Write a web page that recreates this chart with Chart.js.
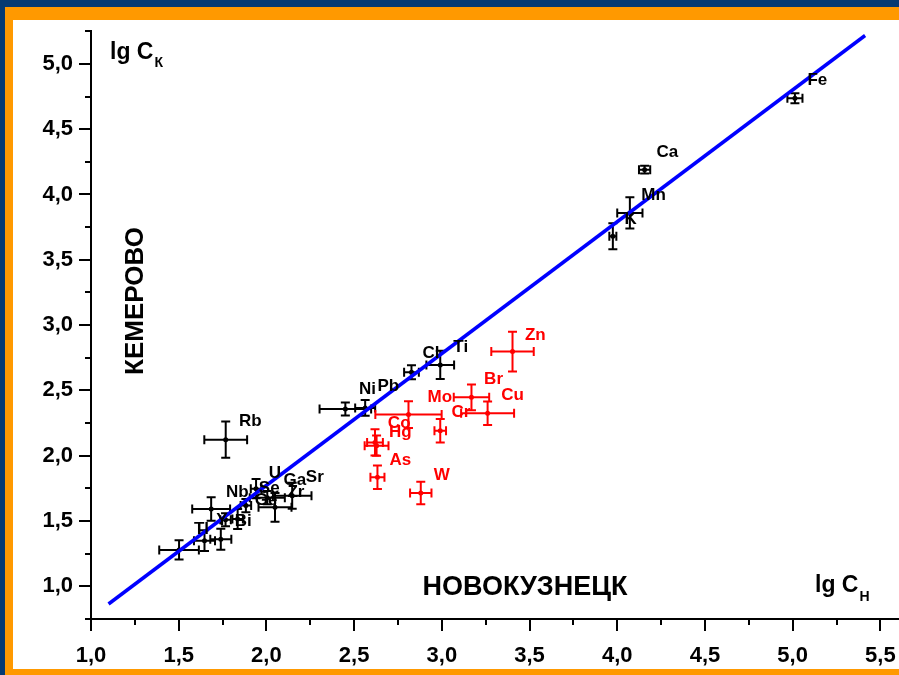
<!DOCTYPE html>
<html><head><meta charset="utf-8">
<script src="https://cdn.jsdelivr.net/npm/chart.js@4.4.0/dist/chart.umd.min.js"></script>
<style>
html,body{margin:0;padding:0;overflow:hidden;background:#063a72;width:899px;height:675px}
#wrap{position:absolute;left:0;top:0;width:920px;height:675px}
</style></head><body>
<div id="wrap"><canvas id="c" width="920" height="675"></canvas></div>
<script>
// ---- data (lg concentrations) ----
const blackX    = [5.013, 4.156, 4.072, 3.975, 2.991, 2.827, 2.563, 2.450, 1.768, 1.502, 1.647, 1.740, 1.685, 1.767, 1.836, 1.883, 2.049, 1.941, 2.005, 2.147];
const blackY    = [4.737, 4.190, 3.859, 3.680, 2.695, 2.639, 2.366, 2.358, 2.123, 1.279, 1.350, 1.360, 1.593, 1.510, 1.516, 1.618, 1.605, 1.748, 1.679, 1.694];
const blackXErr = [0.043, 0.032, 0.072, 0.020, 0.079, 0.042, 0.057, 0.147, 0.122, 0.113, 0.060, 0.060, 0.108, 0.030, 0.030, 0.030, 0.094, 0.030, 0.100, 0.110];
const blackYErr = [0.038, 0.030, 0.120, 0.100, 0.108, 0.054, 0.060, 0.050, 0.139, 0.074, 0.080, 0.080, 0.090, 0.050, 0.077, 0.050, 0.110, 0.073, 0.050, 0.100];

const redX    = [3.403, 3.169, 3.261, 2.810, 2.991, 2.628, 2.619, 2.633, 2.880];
const redY    = [2.797, 2.447, 2.325, 2.315, 2.192, 2.077, 2.102, 1.835, 1.715];
const redXErr = [0.121, 0.101, 0.151, 0.189, 0.033, 0.068, 0.045, 0.040, 0.061];
const redYErr = [0.153, 0.098, 0.090, 0.102, 0.090, 0.077, 0.100, 0.090, 0.086];

const blackLabels = ['Fe', 'Ca', 'Mn', 'K', 'Ti', 'Cl', 'Ni', 'Pb', 'Rb', 'U', 'Ga', 'Sr', 'Se', 'Zr', 'Nb', 'Ge', 'Y', 'Bi', 'Tl'];
const blackLabelX = [5.141, 4.286, 4.207, 4.077, 3.108, 2.938, 2.576, 2.695, 1.908, 2.049, 2.162, 2.276, 2.016, 2.168, 1.834, 1.998, 1.747, 1.868, 1.630];
const blackLabelY = [4.872, 4.320, 3.997, 3.813, 2.828, 2.782, 2.507, 2.530, 2.261, 1.863, 1.810, 1.833, 1.747, 1.717, 1.717, 1.656, 1.503, 1.498, 1.434];

const redLabels = ['Zn', 'Br', 'Cu', 'Mo', 'Cr', 'Co', 'Hg', 'As', 'W'];
const redLabelX = [3.533, 3.295, 3.403, 2.989, 3.109, 2.757, 2.764, 2.764, 3.000];
const redLabelY = [2.918, 2.583, 2.461, 2.446, 2.333, 2.246, 2.180, 1.968, 1.848];

const fitX = [1.100, 5.413];
const fitY = [0.865, 5.217];

const xTickValues = [1.0, 1.5, 2.0, 2.5, 3.0, 3.5, 4.0, 4.5, 5.0, 5.5];
const yTickValues = [1.0, 1.5, 2.0, 2.5, 3.0, 3.5, 4.0, 4.5, 5.0];
const xTickLabels = ['1,0', '1,5', '2,0', '2,5', '3,0', '3,5', '4,0', '4,5', '5,0', '5,5'];
const yTickLabels = ['1,0', '1,5', '2,0', '2,5', '3,0', '3,5', '4,0', '4,5', '5,0'];

// ---- build ----
const toPts = (xs, ys) => xs.map((x, i) => ({x: x, y: ys[i]}));
const FONT = '"Liberation Sans", Arial, sans-serif';

function tickLabel(values, labels) {
  return function (v) {
    for (let i = 0; i < values.length; i++) if (Math.abs(values[i] - v) < 1e-6) return labels[i];
    return '';
  };
}

const framePlugin = {
  id: 'frame',
  beforeDraw(chart) {
    const ctx = chart.ctx, W = chart.width, H = chart.height;
    ctx.save();
    ctx.fillStyle = '#063a72'; ctx.fillRect(0, 0, W, H);
    ctx.fillStyle = '#ff9900'; ctx.fillRect(5, 7, W, H);
    ctx.fillStyle = '#ffffff'; ctx.fillRect(13, 20, W, 649);
    ctx.restore();
  }
};

function drawErr(ctx, xs, ys, ex, ey, sx, sy, color) {
  ctx.strokeStyle = color; ctx.lineWidth = 2;
  const cap = 4.5;
  for (let i = 0; i < xs.length; i++) {
    const px = sx.getPixelForValue(xs[i]), py = sy.getPixelForValue(ys[i]);
    const x1 = sx.getPixelForValue(xs[i] - ex[i]), x2 = sx.getPixelForValue(xs[i] + ex[i]);
    const y1 = sy.getPixelForValue(ys[i] - ey[i]), y2 = sy.getPixelForValue(ys[i] + ey[i]);
    ctx.beginPath();
    ctx.moveTo(x1, py); ctx.lineTo(x2, py);
    ctx.moveTo(x1, py - cap); ctx.lineTo(x1, py + cap);
    ctx.moveTo(x2, py - cap); ctx.lineTo(x2, py + cap);
    ctx.moveTo(px, y1); ctx.lineTo(px, y2);
    ctx.moveTo(px - cap, y1); ctx.lineTo(px + cap, y1);
    ctx.moveTo(px - cap, y2); ctx.lineTo(px + cap, y2);
    ctx.stroke();
  }
}

const overlayPlugin = {
  id: 'overlay',
  beforeDatasetsDraw(chart) {
    const ctx = chart.ctx, sx = chart.scales.x, sy = chart.scales.y;
    ctx.save();
    drawErr(ctx, blackX, blackY, blackXErr, blackYErr, sx, sy, '#000000');
    drawErr(ctx, redX, redY, redXErr, redYErr, sx, sy, '#ff0000');
    ctx.restore();
  },
  afterDraw(chart) {
    const ctx = chart.ctx, sx = chart.scales.x, sy = chart.scales.y, ca = chart.chartArea;
    ctx.save();
    // tick marks (major + minor)
    ctx.strokeStyle = '#000'; ctx.lineWidth = 2;
    ctx.beginPath();
    for (let v = 1.0; v <= sx.max + 1e-9; v += 0.25) {
      const p = Math.round(sx.getPixelForValue(v));
      const major = Math.abs(v * 2 - Math.round(v * 2)) < 1e-6;
      ctx.moveTo(p, ca.bottom); ctx.lineTo(p, ca.bottom + (major ? 12 : 6));
    }
    for (let v = 0.75; v <= sy.max + 1e-9; v += 0.25) {
      const p = Math.round(sy.getPixelForValue(v));
      const major = Math.abs(v * 2 - Math.round(v * 2)) < 1e-6;
      ctx.moveTo(ca.left, p); ctx.lineTo(ca.left - (major ? 12 : 6), p);
    }
    ctx.stroke();
    // element labels
    ctx.font = 'bold 17px ' + FONT;
    ctx.textAlign = 'center'; ctx.textBaseline = 'middle';
    ctx.fillStyle = '#000';
    blackLabels.forEach((t, i) => ctx.fillText(t, sx.getPixelForValue(blackLabelX[i]), sy.getPixelForValue(blackLabelY[i])));
    ctx.fillStyle = '#ff0000';
    redLabels.forEach((t, i) => ctx.fillText(t, sx.getPixelForValue(redLabelX[i]), sy.getPixelForValue(redLabelY[i])));
    // axis titles
    ctx.fillStyle = '#000';
    ctx.textAlign = 'left'; ctx.textBaseline = 'alphabetic';
    ctx.font = 'bold 23px ' + FONT;
    ctx.fillText('lg C', 110, 59);
    let w = ctx.measureText('lg C').width;
    ctx.font = 'bold 14px ' + FONT;
    ctx.fillText('К', 110 + w + 1, 67);
    ctx.font = 'bold 23px ' + FONT;
    ctx.fillText('lg C', 815, 592);
    w = ctx.measureText('lg C').width;
    ctx.font = 'bold 14px ' + FONT;
    ctx.fillText('Н', 815 + w + 1, 601);
    ctx.font = 'bold 27px ' + FONT;
    ctx.textAlign = 'center'; ctx.textBaseline = 'middle';
    ctx.fillText('НОВОКУЗНЕЦК', 525, 588);
    ctx.translate(136, 301); ctx.rotate(-Math.PI / 2);
    ctx.font = 'bold 26px ' + FONT;
    ctx.fillText('КЕМЕРОВО', 0, 0);
    ctx.restore();
  }
};

new Chart(document.getElementById('c'), {
  type: 'scatter',
  data: {
    datasets: [
      { type: 'line', data: toPts(fitX, fitY), borderColor: '#0000ff', borderWidth: 3.5, pointRadius: 0, fill: false, order: 0 },
      { data: toPts(blackX, blackY), backgroundColor: '#000', borderColor: '#000', pointRadius: 2.5, borderWidth: 0, order: 1 },
      { data: toPts(redX, redY), backgroundColor: '#ff0000', borderColor: '#ff0000', pointRadius: 2.5, borderWidth: 0, order: 1 }
    ]
  },
  options: {
    responsive: false, devicePixelRatio: 1, animation: false,
    layout: { padding: { top: 31, right: 15, left: 0, bottom: 0 } },
    plugins: { legend: { display: false }, tooltip: { enabled: false } },
    scales: {
      x: {
        type: 'linear', min: 1.0, max: 5.609,
        afterFit(s) { s.height = 56; },
        grid: { drawOnChartArea: false, drawTicks: false },
        border: { display: true, color: '#000', width: 2 },
        ticks: { stepSize: 0.25, autoSkip: false, includeBounds: false, maxRotation: 0, padding: 24, color: '#000',
                 font: { family: FONT, size: 22, weight: 'bold' }, callback: tickLabel(xTickValues, xTickLabels) }
      },
      y: {
        type: 'linear', min: 0.75, max: 5.25,
        afterFit(s) { s.width = 91; },
        grid: { drawOnChartArea: false, drawTicks: false },
        border: { display: true, color: '#000', width: 2 },
        ticks: { stepSize: 0.25, autoSkip: false, padding: 18, color: '#000',
                 font: { family: FONT, size: 22, weight: 'bold' }, callback: tickLabel(yTickValues, yTickLabels) }
      }
    }
  },
  plugins: [framePlugin, overlayPlugin]
});
</script>
</body></html>
